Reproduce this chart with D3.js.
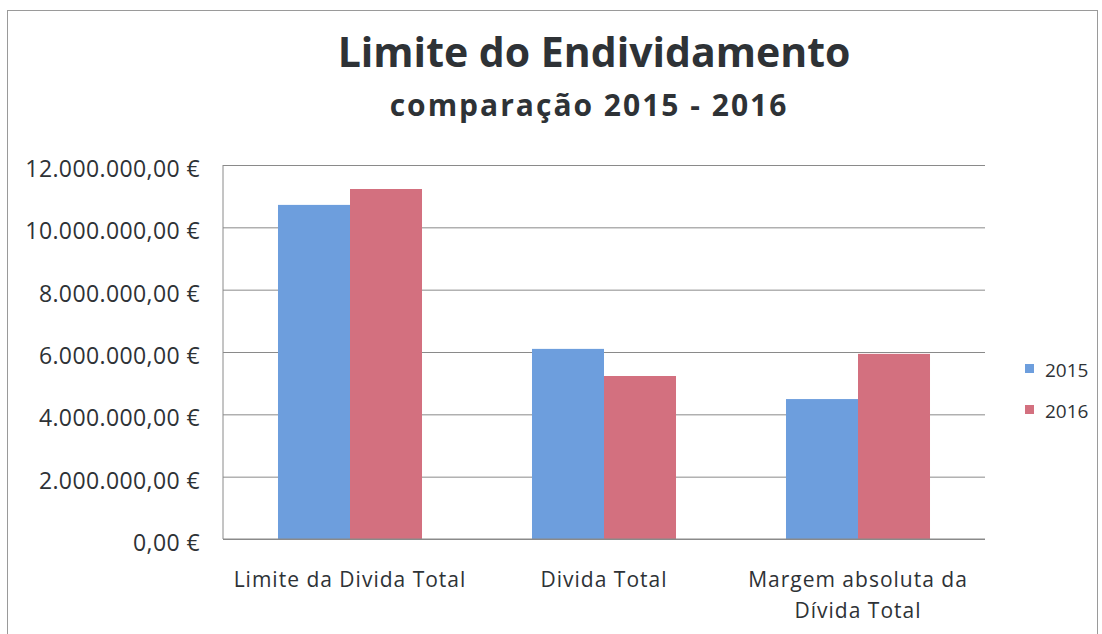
<!DOCTYPE html>
<html>
<head>
<meta charset="utf-8">
<script src="https://cdn.jsdelivr.net/npm/d3@7"></script>
<style>
  body { margin: 0; background: #fff; }
  svg { font-family: "Open Sans", Lato, sans-serif; }
</style>
</head>
<body>
<div id="chart"></div>
<script>
const categories = [["Limite da Divida Total"], ["Divida Total"], ["Margem absoluta da", "Dívida Total"]]
const series = ["2015", "2016"]
const values2015 = [10720000, 6100000, 4490000]
const values2016 = [11230000, 5230000, 5940000]
const yTicks = [0, 2000000, 4000000, 6000000, 8000000, 10000000, 12000000]

const conf = {
    width: 1102, height: 634,
    left: 223, right: 985, top: 165, bottom: 539,
    colors: ["#6d9edd", "#d3707f"]
}

const svg = d3.select("#chart").append("svg")
    .attr("width", conf.width).attr("height", conf.height)

// outer frame
svg.append("rect")
    .attr("x", 7.5).attr("y", 10.5)
    .attr("width", 1090).attr("height", 640)
    .attr("fill", "none").attr("stroke", "#9a9a9a")

svg.append("text")
    .attr("x", 594).attr("y", 67)
    .attr("text-anchor", "middle")
    .attr("font-size", 41).attr("font-weight", "bold").attr("fill", "#2e3236")
    .text("Limite do Endividamento")

svg.append("text")
    .attr("x", 589).attr("y", 116)
    .attr("text-anchor", "middle")
    .attr("font-size", 30).attr("font-weight", "bold").attr("fill", "#2e3236")
    .attr("letter-spacing", 2)
    .text("comparação 2015 - 2016")

const y = d3.scaleLinear().domain([0, 12000000]).range([conf.bottom, conf.top])
const x0 = d3.scaleBand().domain(d3.range(categories.length))
    .range([conf.left, conf.right]).paddingInner(0.433).paddingOuter(0.2165)
const x1 = d3.scaleBand().domain(series).range([0, x0.bandwidth()])

const fmt = v => d3.format(",.2f")(v).replace(/,/g, "#").replace(".", ",").replace(/#/g, ".") + " €"

// gridlines
svg.append("g")
    .attr("transform", "translate(" + conf.left + ",0)")
    .call(d3.axisLeft(y).tickValues(yTicks).tickSize(-(conf.right - conf.left)).tickFormat(""))
    .call(g => g.select(".domain").remove())
    .call(g => g.selectAll("line").attr("stroke", "#8a8a8a"))

svg.append("line").attr("x1", conf.left).attr("x2", conf.left)
    .attr("y1", conf.top).attr("y2", conf.bottom).attr("stroke", "#8a8a8a")

// y labels
svg.append("g").selectAll("text").data(yTicks).join("text")
    .attr("x", 200).attr("y", d => y(d) + 12)
    .attr("text-anchor", "end").attr("font-size", 23).attr("fill", "#2e3236")
    .attr("letter-spacing", 0.4)
    .text(fmt)

const rows = categories.map((c, i) => ({i: i, vals: [values2015[i], values2016[i]]}))
const groups = svg.append("g").selectAll("g").data(rows).join("g")
    .attr("transform", d => "translate(" + x0(d.i) + ",0)")
groups.selectAll("rect").data(d => d.vals.map((v, k) => ({k: k, v: v}))).join("rect")
    .attr("x", d => x1(series[d.k]))
    .attr("y", d => y(d.v))
    .attr("width", x1.bandwidth())
    .attr("height", d => y(0) - y(d.v))
    .attr("fill", d => conf.colors[d.k])

svg.append("line").attr("x1", conf.left).attr("x2", conf.right)
    .attr("y1", conf.bottom).attr("y2", conf.bottom).attr("stroke", "#8a8a8a")

// category labels
svg.append("g").selectAll("text").data(categories).join("text")
    .attr("x", (d, i) => x0(i) + x0.bandwidth() / 2)
    .attr("y", 587)
    .attr("text-anchor", "middle").attr("font-size", 21).attr("fill", "#2e3236")
    .attr("letter-spacing", 1)
    .selectAll("tspan").data(d => d).join("tspan")
    .attr("x", function() { return d3.select(this.parentNode).attr("x") })
    .attr("dy", (d, i) => i === 0 ? 0 : 31)
    .text(d => d)

// legend
const legend = svg.append("g").selectAll("g").data(series).join("g")
    .attr("transform", (d, i) => "translate(1025," + (377 + i * 41) + ")")
legend.append("rect").attr("x", 0).attr("y", -13).attr("width", 9).attr("height", 9)
    .attr("fill", (d, i) => conf.colors[i])
legend.append("text").attr("x", 20).attr("y", 0)
    .attr("font-size", 19).attr("fill", "#2e3236").text(d => d)
</script>
</body>
</html>
